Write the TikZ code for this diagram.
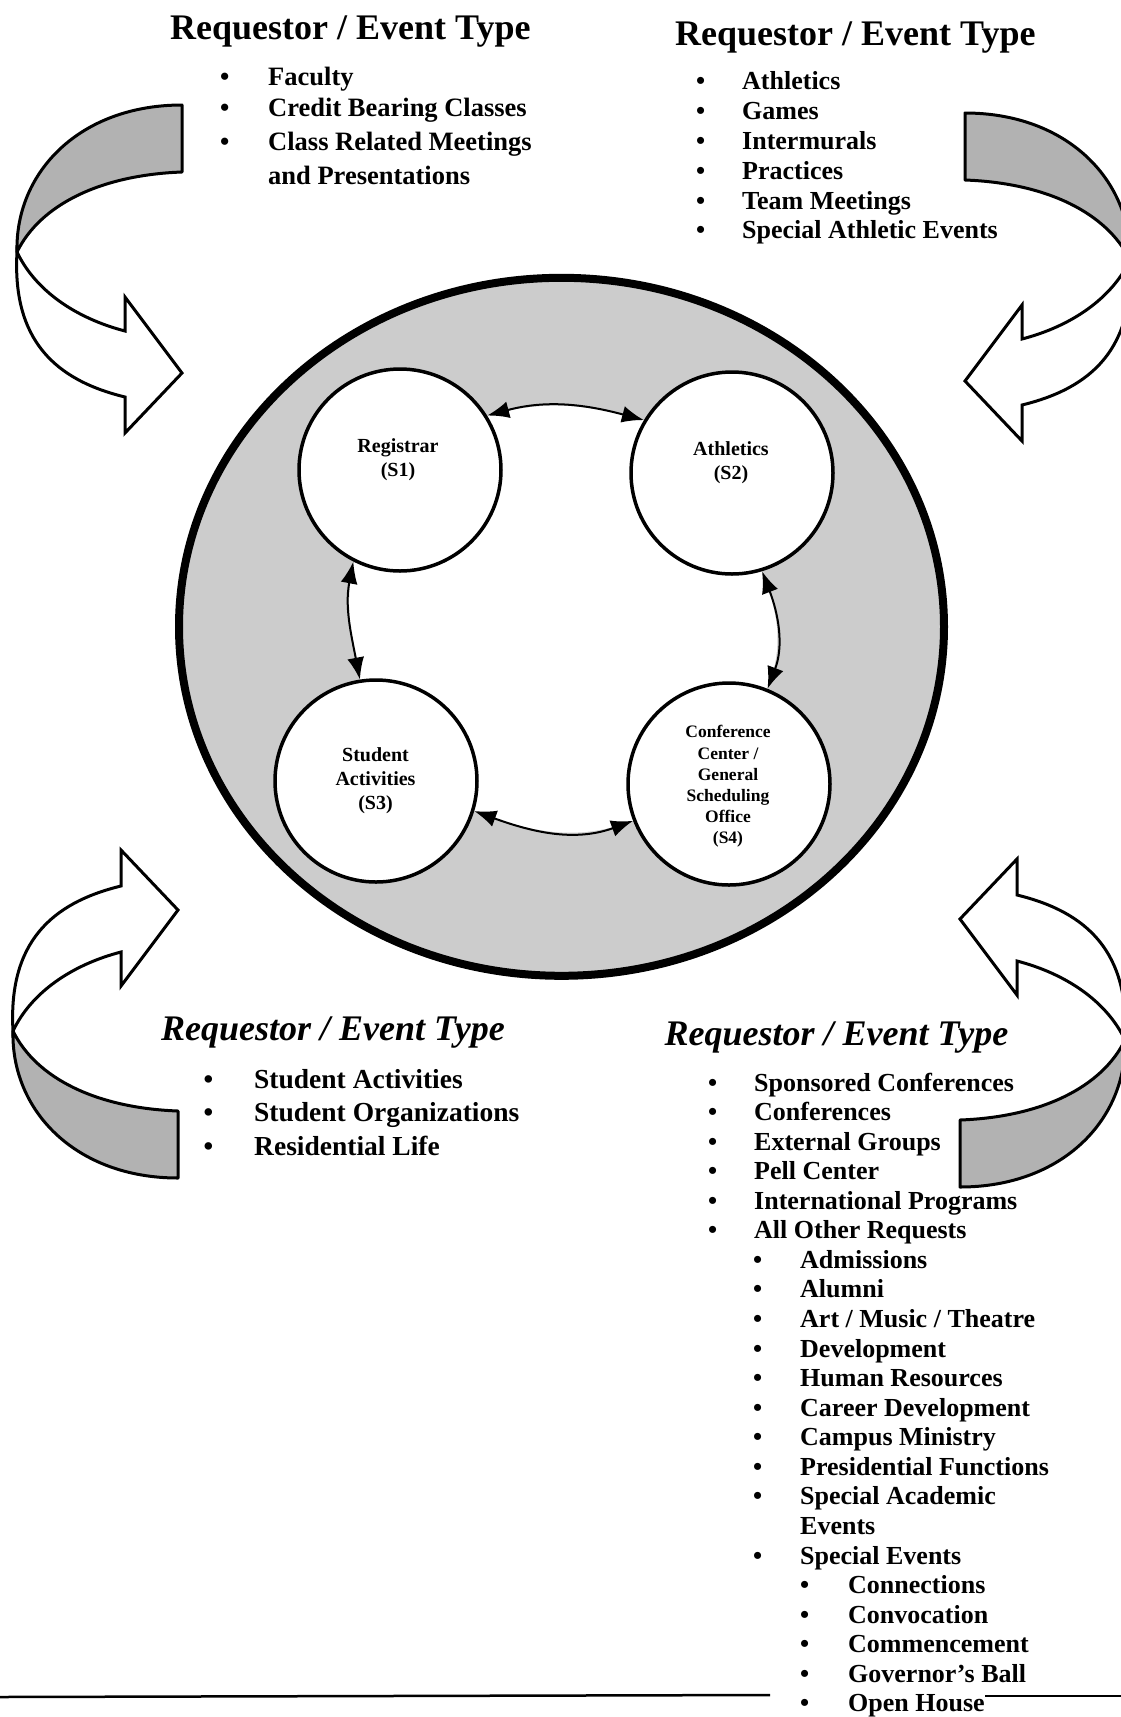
\documentclass[tikz,border=0pt]{standalone}
\usepackage{fontspec}
\setmainfont{Liberation Serif}
\usetikzlibrary{arrows.meta}
\pgfdeclarelayer{bg}
\pgfdeclarelayer{mid}
\pgfsetlayers{bg,mid,main}
\tikzset{
  title/.style={font=\fontsize{36}{40}\selectfont\bfseries, anchor=base west, inner sep=0pt},
  ititle/.style={font=\fontsize{36}{40}\selectfont\bfseries\itshape, anchor=base west, inner sep=0pt},
  item/.style={font=\fontsize{26}{30}\selectfont\bfseries, anchor=base west, inner sep=0pt},
  hub/.style={circle, draw, line width=3.5pt, fill=white, minimum size=202pt, inner sep=0pt},
  hubtext/.style={font=\fontsize{20}{24}\selectfont\bfseries, align=center, inner sep=0pt},
  conn/.style={line width=2pt, {Latex[length=22pt,width=17pt]}-{Latex[length=22pt,width=17pt]}},
  ribshade/.style={draw, line width=3pt, fill=black!30, line join=round},
  ribwhite/.style={draw, line width=3pt, fill=white, line join=miter},
  ring/.style={draw, line width=8pt, fill=black!20},
}
\newcommand\ribbonpaths{%
  \path[ribshade] (182,105) .. controls (80,105) and (15,172) .. (17,252) .. controls (40,205) and (100,175) .. (182,172) -- cycle;
  \path[ribwhite] (17,252) .. controls (12,340) and (55,380) .. (125,397) -- (125,433) -- (182,373) -- (125,297) -- (125,331) .. controls (75,318) and (35,290) .. (17,252) -- cycle;
}
\newcommand\bitem[6][]{\node[item,#1] (#2) at (#3,#4) {\makebox[#5pt][l]{\textbullet}#6};}

\begin{document}
\begin{tikzpicture}[x=1pt,y=-1pt]
\useasboundingbox (0,0) rectangle (1121,1717);
\clip (0,0) rectangle (1121,1717);
\begin{pgfonlayer}{bg}
\fill[white] (0,0) rectangle (1121,1717);
\path[ring] (561.5,626.8) ellipse [x radius=382.5pt, y radius=349pt];
\end{pgfonlayer}

% ribbons
\begin{scope}\ribbonpaths\end{scope}
\begin{scope}[shift={(1147,8)}, xscale=-1]\ribbonpaths\end{scope}
\begin{scope}[shift={(-4,1283)}, yscale=-1]\ribbonpaths\end{scope}
\begin{scope}[shift={(1142,1292)}, scale=-1]\ribbonpaths\end{scope}

% hubs
\node[hub] (reg) at (400,470) {};
\node[hub] (ath) at (732,473) {};
\node[hub] (stu) at (376,781) {};
\node[hub] (conf) at (729,784) {};

\begin{pgfonlayer}{mid}
\fill[white] (reg.32) to[out=15,in=165] (ath.149) -- (ath.-73) to[out=-69,in=69] (conf.68)
  -- (conf.-159) to[out=-160,in=-20] (stu.-17) -- (stu.99) to[out=101,in=-101] (reg.-117) -- cycle;
\end{pgfonlayer}

\draw[conn] (reg.32) to[out=15,in=165] (ath.149);
\draw[conn] (ath.-73) to[out=-69,in=69] (conf.68);
\draw[conn] (reg.-117) to[out=-101,in=101] (stu.99);
\draw[conn] (stu.-17) to[out=-20,in=-160] (conf.-159);

\node[hubtext] (regl) at (398,460) {Registrar\\(S1)};
\node[hubtext] (athl) at (731,462.5) {Athletics\\(S2)};
\node[hubtext] (stul) at (375.5,780.5) {Student\\Activities\\(S3)};
\node[hubtext, font=\fontsize{17.5}{21.2}\selectfont\bfseries] (confl) at (728,786.6)
  {Conference\\Center /\\General\\Scheduling\\Office\\(S4)};

% titles
\node[title] (t1) at (170,39.4) {Requestor / Event Type};
\node[title] (t2) at (675,45) {Requestor / Event Type};
\node[ititle] (t3) at (161,1040) {Requestor / Event Type};
\node[ititle] (t4) at (664.5,1045.5) {Requestor / Event Type};

% top-left list
\tikzset{itemL/.style={font=\fontsize{26.5}{30}\selectfont\bfseries}}
\bitem[itemL]{a1}{220}{85.4}{48}{Faculty}
\bitem[itemL]{a2}{220}{116}{48}{Credit Bearing Classes}
\bitem[itemL]{a3}{220}{150}{48}{Class Related Meetings}
\node[item,itemL] (a4) at (268,184) {and Presentations};

% top-right list
\bitem{b1}{696}{89.8}{46}{Athletics}
\bitem{b2}{696}{119.6}{46}{Games}
\bitem{b3}{696}{149.4}{46}{Intermurals}
\bitem{b4}{696}{179.2}{46}{Practices}
\bitem{b5}{696}{209}{46}{Team Meetings}
\bitem{b6}{696}{238.8}{46}{Special Athletic Events}

% bottom-left list
\tikzset{itemB/.style={font=\fontsize{27.5}{30}\selectfont\bfseries}}
\bitem[itemB]{c1}{203.5}{1088}{50.5}{Student Activities}
\bitem[itemB]{c2}{203.5}{1121}{50.5}{Student Organizations}
\bitem[itemB]{c3}{203.5}{1155}{50.5}{Residential Life}

% bottom-right list
\bitem{d1}{708}{1091}{46}{Sponsored Conferences}
\bitem{d2}{708}{1120.6}{46}{Conferences}
\bitem{d3}{708}{1150.1}{46}{External Groups}
\bitem{d4}{708}{1179.7}{46}{Pell Center}
\bitem{d5}{708}{1209.2}{46}{International Programs}
\bitem{d6}{708}{1238.8}{46}{All Other Requests}
\bitem{e1}{753}{1268.4}{47}{Admissions}
\bitem{e2}{753}{1297.9}{47}{Alumni}
\bitem{e3}{753}{1327.5}{47}{Art / Music / Theatre}
\bitem{e4}{753}{1357}{47}{Development}
\bitem{e5}{753}{1386.6}{47}{Human Resources}
\bitem{e6}{753}{1416.2}{47}{Career Development}
\bitem{e7}{753}{1445.7}{47}{Campus Ministry}
\bitem{e8}{753}{1475.3}{47}{Presidential Functions}
\bitem{e9}{753}{1504.8}{47}{Special Academic}
\node[item] (e10) at (800,1534.4) {Events};
\bitem{e11}{753}{1564}{47}{Special Events}
\bitem{f1}{800}{1593.5}{48}{Connections}
\bitem{f2}{800}{1623.1}{48}{Convocation}
\bitem{f3}{800}{1652.6}{48}{Commencement}
\bitem{f4}{800}{1682.2}{48}{Governor's Ball}
\bitem{f5}{800}{1711.8}{48}{Open House}

% bottom rule
\coordinate (r1) at (0,1697);
\coordinate (r2) at (770,1695);
\coordinate (r3) at (985,1696);
\coordinate (r4) at (1121,1696);
\draw[line width=2.5pt] (r1) -- (r2);
\draw[line width=2.5pt] (r3) -- (r4);
\end{tikzpicture}
\end{document}
